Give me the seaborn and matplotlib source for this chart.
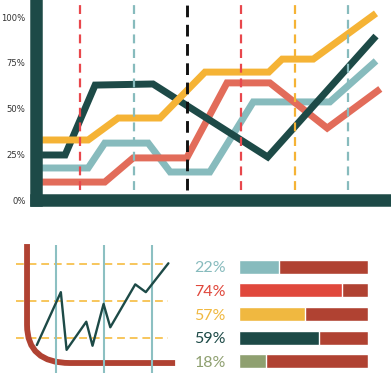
import numpy as np
import pandas as pd
import matplotlib
matplotlib.use('Agg')
import matplotlib.pyplot as plt
import matplotlib.patches as mpatches
from matplotlib.path import Path
import seaborn as sns

sns.set_theme(style='white')
plt.rcParams['font.family'] = ['DejaVu Sans']

DARK = '#1d4a47'
YELLOW = '#f5b335'
TEAL = '#87bbbd'
CORAL = '#e26c5a'
BRICK = '#b04232'

# ---- top line chart data (x = period, y = percent)
green_x = [0.29, 0.72, 1.28, 2.36, 4.50, 6.52]
green_y = [24.6, 24.6, 62.8, 63.4, 23.5, 89.6]
yellow_x = [0.29, 1.15, 1.71, 2.49, 3.33, 4.52, 4.77, 5.35, 6.52]
yellow_y = [32.8, 32.8, 44.8, 44.8, 69.9, 69.9, 77.0, 77.0, 102.0]
teal_x = [0.29, 1.15, 1.46, 2.27, 2.68, 3.42, 4.23, 5.66, 6.52]
teal_y = [17.5, 17.5, 31.1, 31.1, 15.3, 15.3, 53.6, 53.6, 76.0]
coral_x = [0.29, 1.46, 1.99, 2.99, 3.74, 4.54, 5.61, 6.60]
coral_y = [9.8, 9.8, 23.0, 23.0, 64.0, 64.0, 39.3, 60.7]
marker_x = [1, 2, 3, 4, 5, 6]
marker_colors = ['#e8474c', TEAL, '#111111', '#e8474c', YELLOW, TEAL]
y_ticks = [0, 25, 50, 75, 100]

# ---- small trend chart data
trend_x = [0.60, 1.10, 1.22, 1.63, 1.76, 1.99, 2.13, 2.65, 2.87, 3.34]
trend_y = [0.81, 2.24, 0.68, 1.44, 0.79, 1.92, 1.29, 2.45, 2.24, 3.02]
grid_x = [1, 2, 3]
grid_y = [1, 2, 3]

# ---- progress bars
pct_values = [22, 74, 57, 59, 18]
bar_fill = [31, 80, 51, 62, 21]
bar_colors = [TEAL, '#e0483c', '#f0b840', DARK, '#8fa070']

W, H = 391, 373
fig = plt.figure(figsize=(W / 100, H / 100), dpi=100)

# ================= top chart
ax1 = fig.add_axes([36 / W, (H - 200) / H, (W - 36) / W, 200 / H])
rows = []
for name, xs, ys in [('teal', teal_x, teal_y), ('coral', coral_x, coral_y),
                     ('green', green_x, green_y), ('yellow', yellow_x, yellow_y)]:
    for x, y in zip(xs, ys):
        rows.append({'series': name, 'period': x, 'value': y})
df = pd.DataFrame(rows)
sns.lineplot(data=df, x='period', y='value', hue='series',
             hue_order=['teal', 'coral', 'green', 'yellow'],
             palette={'teal': TEAL, 'coral': CORAL, 'green': DARK, 'yellow': YELLOW},
             estimator=None, sort=False, linewidth=5, legend=False, ax=ax1,
             solid_joinstyle='miter', solid_capstyle='butt')
for x, c in zip(marker_x, marker_colors):
    ax1.vlines(x, 5.5, 106.6, colors=c, linewidth=2.1 if c == '#111111' else 1.6,
               linestyles=(0, (4, 2.6)), zorder=5)
ax1.set_xlim(0.177, 6.80)
ax1.set_ylim(0, 109.3)
ax1.set_xticks([])
ax1.set_yticks(y_ticks)
ax1.set_yticklabels([f'{t}%' for t in y_ticks], fontsize=6.1, color='#333333')
ax1.tick_params(axis='y', length=0, pad=7.5)
ax1.set_xlabel('')
ax1.set_ylabel('')
for s in ['top', 'right']:
    ax1.spines[s].set_visible(False)
for s in ['left', 'bottom']:
    ax1.spines[s].set_linewidth(9)
    ax1.spines[s].set_color(DARK)
    ax1.spines[s].set_capstyle('projecting')
    ax1.spines[s].set_zorder(6)

# ================= small trend chart
ax2 = fig.add_axes([0, 0, 190 / W, 143 / H])
ax2.set_xlim(-0.167, 3.79)
ax2.set_ylim(0.054, 3.92)
ax2.hlines(grid_y, 0.167, 3.33, colors='#f7c65c', linewidth=1.4,
           linestyles=(0, (4, 2.5)), zorder=1)
verts = [(0.396, 3.54), (0.396, 1.35), (0.396, 0.324), (1.29, 0.324), (3.48, 0.324)]
codes = [Path.MOVETO, Path.LINETO, Path.CURVE3, Path.CURVE3, Path.LINETO]
ax2.add_patch(mpatches.PathPatch(Path(verts, codes), fill=False, edgecolor=BRICK,
                                 linewidth=4.2, capstyle='butt', zorder=2))
ax2.vlines(grid_x, 0.054, 3.51, colors='#8cc0c2', linewidth=1.5, zorder=3)
sns.lineplot(x=trend_x, y=trend_y, sort=False, estimator=None, color=DARK,
             linewidth=1.7, ax=ax2, zorder=4)
ax2.axis('off')

# ================= progress bars
ax3 = fig.add_axes([239 / W, 0, 129 / W, 118 / H])
labels = [f'{v}%' for v in pct_values]
sns.barplot(x=[100] * 5, y=labels, orient='h', color=BRICK, width=0.6,
            saturation=1, ax=ax3)
sns.barplot(x=bar_fill, y=labels, hue=labels, orient='h', palette=bar_colors,
            width=0.6, saturation=1, legend=False, ax=ax3)
ax3.set_xlim(0, 100)
ax3.set_ylim(4.5, -0.5)
ax3.set_xticks([])
ax3.set_xlabel('')
ax3.set_ylabel('')
ax3.tick_params(axis='y', length=0, pad=32)
for lab, c in zip(ax3.get_yticklabels(), bar_colors):
    lab.set_color(c)
    lab.set_horizontalalignment('left')
    lab.set_fontsize(11.5)
    lab.set_family(['Lato', 'DejaVu Sans'])
    lab.set_fontweight('normal')
for s in ax3.spines.values():
    s.set_visible(False)

fig.savefig('out.png', dpi=100)
